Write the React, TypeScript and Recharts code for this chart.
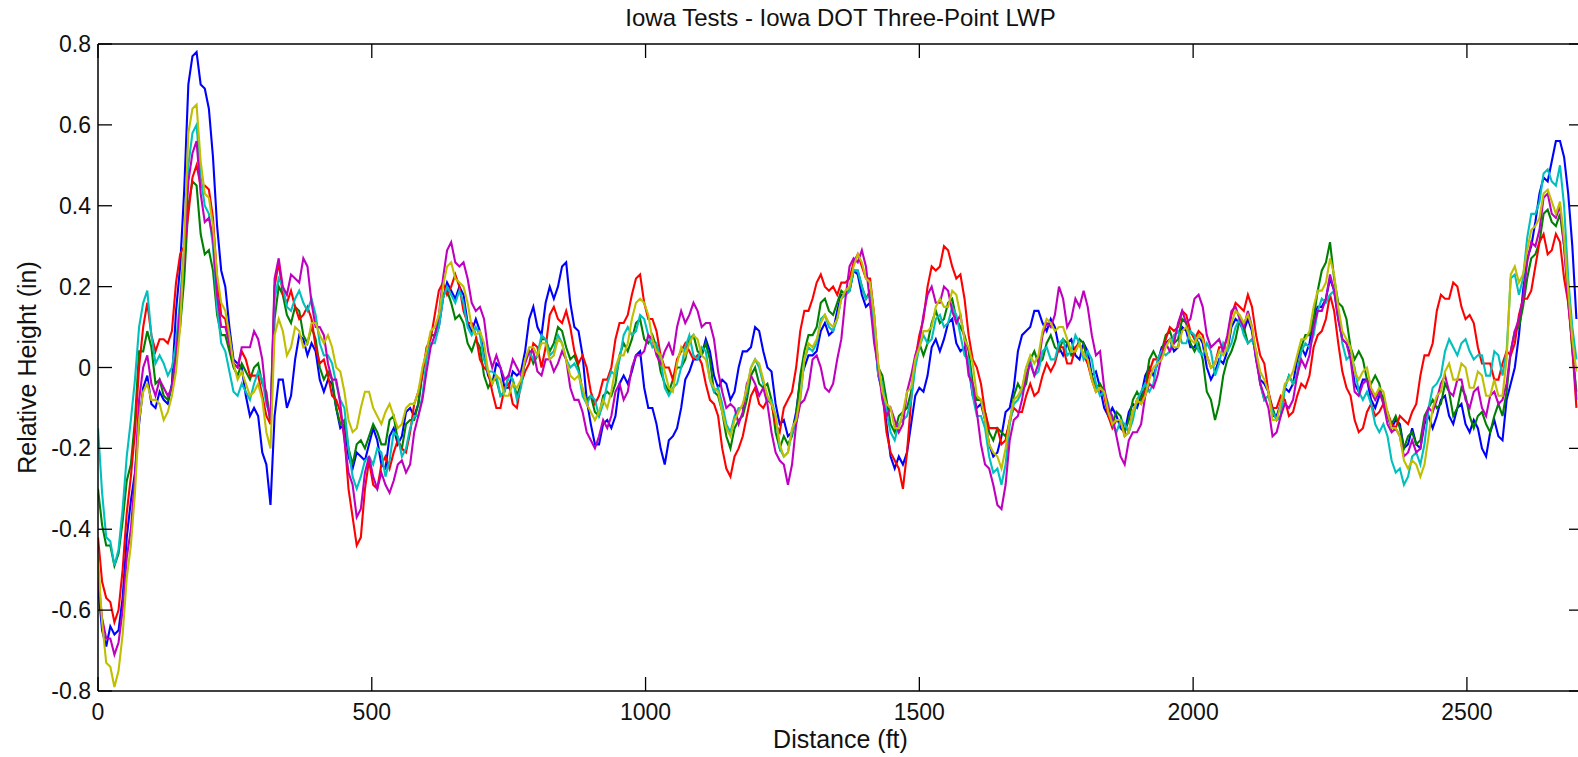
import { LineChart, Line, XAxis, YAxis } from "recharts";

// distance along the wheel path (ft)
const distanceFt = [
  0, 7.5, 15, 22.5, 30, 37.5, 45, 52.5, 60, 67.5, 75, 82.5, 90, 97.5, 105, 112.5, 120, 127.5, 135, 142.5,
  150, 157.5, 165, 172.5, 180, 187.5, 195, 202.5, 210, 217.5, 225, 232.5, 240, 247.5, 255, 262.5, 270, 277.5, 285, 292.5,
  300, 307.5, 315, 322.5, 330, 337.5, 345, 352.5, 360, 367.5, 375, 382.5, 390, 397.5, 405, 412.5, 420, 427.5, 435, 442.5,
  450, 457.5, 465, 472.5, 480, 487.5, 495, 502.5, 510, 517.5, 525, 532.5, 540, 547.5, 555, 562.5, 570, 577.5, 585, 592.5,
  600, 607.5, 615, 622.5, 630, 637.5, 645, 652.5, 660, 667.5, 675, 682.5, 690, 697.5, 705, 712.5, 720, 727.5, 735, 742.5,
  750, 757.5, 765, 772.5, 780, 787.5, 795, 802.5, 810, 817.5, 825, 832.5, 840, 847.5, 855, 862.5, 870, 877.5, 885, 892.5,
  900, 907.5, 915, 922.5, 930, 937.5, 945, 952.5, 960, 967.5, 975, 982.5, 990, 997.5, 1005, 1012.5, 1020, 1027.5, 1035, 1042.5,
  1050, 1057.5, 1065, 1072.5, 1080, 1087.5, 1095, 1102.5, 1110, 1117.5, 1125, 1132.5, 1140, 1147.5, 1155, 1162.5, 1170, 1177.5, 1185, 1192.5,
  1200, 1207.5, 1215, 1222.5, 1230, 1237.5, 1245, 1252.5, 1260, 1267.5, 1275, 1282.5, 1290, 1297.5, 1305, 1312.5, 1320, 1327.5, 1335, 1342.5,
  1350, 1357.5, 1365, 1372.5, 1380, 1387.5, 1395, 1402.5, 1410, 1417.5, 1425, 1432.5, 1440, 1447.5, 1455, 1462.5, 1470, 1477.5, 1485, 1492.5,
  1500, 1507.5, 1515, 1522.5, 1530, 1537.5, 1545, 1552.5, 1560, 1567.5, 1575, 1582.5, 1590, 1597.5, 1605, 1612.5, 1620, 1627.5, 1635, 1642.5,
  1650, 1657.5, 1665, 1672.5, 1680, 1687.5, 1695, 1702.5, 1710, 1717.5, 1725, 1732.5, 1740, 1747.5, 1755, 1762.5, 1770, 1777.5, 1785, 1792.5,
  1800, 1807.5, 1815, 1822.5, 1830, 1837.5, 1845, 1852.5, 1860, 1867.5, 1875, 1882.5, 1890, 1897.5, 1905, 1912.5, 1920, 1927.5, 1935, 1942.5,
  1950, 1957.5, 1965, 1972.5, 1980, 1987.5, 1995, 2002.5, 2010, 2017.5, 2025, 2032.5, 2040, 2047.5, 2055, 2062.5, 2070, 2077.5, 2085, 2092.5,
  2100, 2107.5, 2115, 2122.5, 2130, 2137.5, 2145, 2152.5, 2160, 2167.5, 2175, 2182.5, 2190, 2197.5, 2205, 2212.5, 2220, 2227.5, 2235, 2242.5,
  2250, 2257.5, 2265, 2272.5, 2280, 2287.5, 2295, 2302.5, 2310, 2317.5, 2325, 2332.5, 2340, 2347.5, 2355, 2362.5, 2370, 2377.5, 2385, 2392.5,
  2400, 2407.5, 2415, 2422.5, 2430, 2437.5, 2445, 2452.5, 2460, 2467.5, 2475, 2482.5, 2490, 2497.5, 2505, 2512.5, 2520, 2527.5, 2535, 2542.5,
  2550, 2557.5, 2565, 2572.5, 2580, 2587.5, 2595, 2602.5, 2610, 2617.5, 2625, 2632.5, 2640, 2647.5, 2655, 2662.5, 2670, 2677.5, 2685, 2692.5,
  2700,
];

// relative height (in), one array per run
const run1 = [
  -0.54, -0.65, -0.69, -0.64, -0.66, -0.65, -0.57, -0.42, -0.33, -0.26, -0.14, -0.05, -0.02, -0.09, -0.1, -0.06, -0.08, -0.09, -0.04, 0.14,
  0.25, 0.44, 0.7, 0.77, 0.78, 0.7, 0.69, 0.64, 0.52, 0.35, 0.24, 0.2, 0.1, 0.02, 0.01, 0.0, -0.07, -0.12, -0.1, -0.12,
  -0.21, -0.24, -0.34, -0.12, -0.03, -0.03, -0.1, -0.07, 0.02, 0.08, 0.07, 0.03, 0.06, 0.04, -0.03, -0.06, -0.03, -0.04, -0.1, -0.15,
  -0.14, -0.22, -0.25, -0.21, -0.22, -0.23, -0.19, -0.15, -0.18, -0.24, -0.25, -0.17, -0.15, -0.19, -0.17, -0.11, -0.1, -0.12, -0.09, -0.01,
  0.03, 0.08, 0.08, 0.1, 0.17, 0.21, 0.19, 0.17, 0.2, 0.18, 0.11, 0.09, 0.12, 0.09, 0.03, -0.02, -0.04, 0.01, 0.0, -0.05,
  -0.05, -0.01, -0.02, -0.01, 0.04, 0.12, 0.15, 0.1, 0.08, 0.16, 0.2, 0.17, 0.2, 0.25, 0.26, 0.16, 0.1, 0.09, 0.03, -0.08,
  -0.14, -0.19, -0.19, -0.14, -0.13, -0.15, -0.12, -0.04, -0.02, -0.04, -0.01, 0.03, 0.04, -0.05, -0.1, -0.1, -0.14, -0.2, -0.24, -0.18,
  -0.17, -0.15, -0.1, -0.03, -0.01, 0.02, 0.02, 0.03, 0.07, 0.04, -0.02, -0.05, -0.03, -0.04, -0.08, -0.06, 0.0, 0.04, 0.04, 0.05,
  0.1, 0.09, 0.04, 0.0, -0.01, -0.09, -0.14, -0.13, -0.17, -0.16, -0.11, -0.03, 0.0, 0.03, 0.03, 0.04, 0.09, 0.11, 0.08, 0.09,
  0.14, 0.18, 0.18, 0.19, 0.24, 0.23, 0.18, 0.15, 0.16, 0.09, -0.02, -0.06, -0.14, -0.22, -0.25, -0.22, -0.24, -0.21, -0.14, -0.07,
  -0.05, -0.06, -0.02, 0.05, 0.07, 0.04, 0.07, 0.11, 0.12, 0.06, 0.04, 0.05, 0.0, -0.07, -0.1, -0.09, -0.13, -0.19, -0.22, -0.21,
  -0.17, -0.11, -0.1, -0.05, 0.04, 0.08, 0.09, 0.1, 0.14, 0.14, 0.11, 0.09, 0.12, 0.1, 0.05, 0.03, 0.06, 0.07, 0.03, 0.02,
  0.06, 0.04, -0.02, -0.01, -0.05, -0.1, -0.12, -0.1, -0.12, -0.15, -0.16, -0.11, -0.09, -0.1, -0.07, -0.02, 0.0, -0.02, 0.01, 0.05,
  0.06, 0.07, 0.04, 0.05, 0.1, 0.09, 0.05, 0.05, 0.08, 0.06, 0.0, -0.03, -0.01, 0.02, 0.01, 0.04, 0.1, 0.12, 0.11, 0.09,
  0.12, 0.09, 0.02, -0.03, -0.04, -0.06, -0.12, -0.12, -0.09, -0.05, -0.06, -0.04, 0.02, 0.05, 0.03, 0.06, 0.12, 0.15, 0.15, 0.17,
  0.22, 0.19, 0.12, 0.07, 0.06, 0.03, -0.04, -0.06, -0.03, -0.03, -0.08, -0.1, -0.07, -0.07, -0.12, -0.15, -0.13, -0.14, -0.2, -0.19,
  -0.15, -0.19, -0.2, -0.14, -0.12, -0.15, -0.12, -0.08, -0.07, -0.12, -0.14, -0.1, -0.09, -0.14, -0.16, -0.13, -0.15, -0.2, -0.22, -0.16,
  -0.13, -0.17, -0.18, -0.08, -0.04, 0.0, 0.08, 0.19, 0.27, 0.3, 0.36, 0.43, 0.47, 0.46, 0.51, 0.56, 0.56, 0.52, 0.43, 0.3,
  0.12,
];

const run2 = [
  -0.3, -0.39, -0.44, -0.44, -0.49, -0.46, -0.38, -0.28, -0.24, -0.13, 0.04, 0.04, 0.09, 0.05, -0.04, -0.03, -0.07, -0.08, -0.05, 0.04,
  0.1, 0.22, 0.4, 0.46, 0.45, 0.33, 0.28, 0.29, 0.24, 0.13, 0.08, 0.08, 0.04, 0.0, -0.02, 0.01, -0.01, -0.03, 0.0, 0.01,
  -0.04, -0.06, -0.14, 0.12, 0.2, 0.18, 0.13, 0.11, 0.15, 0.14, 0.08, 0.06, 0.1, 0.07, 0.0, -0.03, -0.01, -0.03, -0.1, -0.14,
  -0.13, -0.2, -0.24, -0.19, -0.18, -0.2, -0.17, -0.14, -0.16, -0.19, -0.19, -0.13, -0.12, -0.18, -0.2, -0.14, -0.13, -0.13, -0.09, -0.01,
  0.04, 0.08, 0.08, 0.11, 0.18, 0.19, 0.16, 0.12, 0.13, 0.11, 0.06, 0.04, 0.07, 0.05, -0.02, -0.05, -0.03, -0.03, -0.07, -0.06,
  -0.02, -0.03, -0.07, -0.04, 0.02, 0.04, 0.01, 0.03, 0.07, 0.07, 0.04, 0.06, 0.1, 0.09, 0.05, 0.02, 0.03, 0.0, -0.06, -0.08,
  -0.07, -0.11, -0.12, -0.07, -0.06, -0.07, -0.04, 0.03, 0.06, 0.04, 0.07, 0.11, 0.12, 0.07, 0.06, 0.08, 0.05, -0.01, -0.04, -0.06,
  -0.03, 0.0, 0.0, 0.02, 0.07, 0.08, 0.04, 0.03, 0.06, 0.02, -0.06, -0.07, -0.11, -0.17, -0.2, -0.15, -0.13, -0.12, -0.08, -0.02,
  0.0, -0.04, -0.05, -0.04, -0.08, -0.16, -0.2, -0.17, -0.19, -0.17, -0.12, -0.02, 0.04, 0.08, 0.08, 0.1, 0.16, 0.17, 0.14, 0.13,
  0.16, 0.19, 0.18, 0.19, 0.24, 0.24, 0.2, 0.17, 0.19, 0.11, 0.0, -0.02, -0.08, -0.14, -0.16, -0.12, -0.11, -0.1, -0.06, 0.02,
  0.06, 0.03, 0.06, 0.11, 0.14, 0.11, 0.12, 0.16, 0.17, 0.12, 0.1, 0.08, 0.04, -0.04, -0.08, -0.08, -0.11, -0.16, -0.18, -0.15,
  -0.16, -0.17, -0.14, -0.07, -0.04, -0.06, -0.04, 0.02, 0.04, 0.01, 0.02, 0.06, 0.08, 0.05, 0.04, 0.07, 0.06, 0.03, 0.04, 0.07,
  0.06, 0.01, -0.02, -0.05, -0.04, -0.06, -0.12, -0.14, -0.11, -0.12, -0.16, -0.13, -0.08, -0.06, -0.08, -0.05, 0.02, 0.04, 0.02, 0.04,
  0.08, 0.09, 0.06, 0.07, 0.12, 0.11, 0.06, 0.04, 0.06, 0.02, -0.06, -0.08, -0.13, -0.09, -0.02, 0.02, 0.04, 0.07, 0.12, 0.1,
  0.06, 0.07, 0.04, -0.04, -0.08, -0.07, -0.1, -0.13, -0.12, -0.05, -0.02, -0.04, -0.02, 0.05, 0.08, 0.08, 0.12, 0.19, 0.24, 0.26,
  0.31, 0.22, 0.16, 0.15, 0.12, 0.05, 0.02, 0.04, 0.02, -0.03, -0.04, -0.02, -0.04, -0.09, -0.12, -0.14, -0.12, -0.15, -0.2, -0.17,
  -0.16, -0.19, -0.18, -0.12, -0.1, -0.08, -0.1, -0.09, -0.04, -0.06, -0.12, -0.1, -0.05, -0.07, -0.12, -0.15, -0.12, -0.11, -0.14, -0.16,
  -0.12, -0.09, -0.12, -0.06, 0.04, 0.09, 0.1, 0.15, 0.22, 0.27, 0.28, 0.31, 0.38, 0.39, 0.36, 0.35, 0.38, 0.3, 0.18, 0.04,
  -0.06,
];

const run3 = [
  -0.42, -0.53, -0.57, -0.58, -0.63, -0.6, -0.5, -0.36, -0.27, -0.16, 0.0, 0.1, 0.16, 0.08, 0.04, 0.07, 0.07, 0.06, 0.09, 0.21,
  0.28, 0.3, 0.38, 0.47, 0.5, 0.45, 0.45, 0.44, 0.37, 0.22, 0.13, 0.12, 0.06, 0.01, 0.0, 0.04, 0.02, -0.02, -0.02, -0.02,
  -0.07, -0.12, -0.14, 0.2, 0.26, 0.18, 0.16, 0.19, 0.15, 0.12, 0.13, 0.15, 0.12, 0.05, 0.01, 0.02, -0.02, -0.07, -0.08, -0.11,
  -0.17, -0.3, -0.37, -0.44, -0.42, -0.3, -0.23, -0.29, -0.3, -0.24, -0.22, -0.25, -0.21, -0.18, -0.2, -0.21, -0.16, -0.09, -0.06, -0.02,
  0.05, 0.07, 0.13, 0.19, 0.21, 0.18, 0.2, 0.23, 0.2, 0.14, 0.11, 0.11, 0.08, 0.02, 0.0, -0.01, -0.06, -0.1, -0.1, -0.05,
  -0.04, -0.09, -0.1, -0.04, -0.01, 0.01, 0.06, 0.05, 0.0, 0.05, 0.13, 0.15, 0.12, 0.11, 0.14, 0.1, 0.04, 0.01, 0.03, 0.0,
  -0.06, -0.09, -0.07, -0.03, -0.03, 0.0, 0.07, 0.11, 0.11, 0.13, 0.18, 0.22, 0.23, 0.16, 0.12, 0.12, 0.09, 0.03, 0.0, 0.0,
  -0.03, 0.02, 0.04, 0.06, 0.04, 0.02, 0.03, 0.01, -0.04, -0.08, -0.09, -0.12, -0.2, -0.25, -0.27, -0.22, -0.2, -0.17, -0.12, -0.07,
  -0.05, -0.09, -0.1, -0.08, -0.09, -0.14, -0.16, -0.1, -0.08, -0.06, 0.0, 0.09, 0.14, 0.14, 0.17, 0.21, 0.23, 0.2, 0.19, 0.2,
  0.18, 0.21, 0.21, 0.22, 0.26, 0.28, 0.25, 0.22, 0.22, 0.13, 0.0, -0.06, -0.16, -0.21, -0.23, -0.25, -0.3, -0.21, -0.08, 0.02,
  0.08, 0.12, 0.2, 0.25, 0.24, 0.25, 0.3, 0.29, 0.25, 0.22, 0.23, 0.17, 0.08, 0.02, 0.0, -0.04, -0.11, -0.15, -0.15, -0.15,
  -0.19, -0.18, -0.13, -0.1, -0.11, -0.11, -0.07, -0.04, -0.07, -0.06, -0.02, 0.01, -0.01, 0.01, 0.05, 0.05, 0.01, 0.01, 0.05, 0.06,
  0.03, 0.01, -0.03, -0.06, -0.05, -0.07, -0.12, -0.15, -0.13, -0.13, -0.17, -0.16, -0.11, -0.08, -0.09, -0.06, -0.01, 0.02, 0.02, 0.03,
  0.07, 0.1, 0.09, 0.1, 0.14, 0.13, 0.09, 0.07, 0.09, 0.08, 0.03, 0.0, 0.01, 0.05, 0.05, 0.07, 0.13, 0.16, 0.15, 0.14,
  0.18, 0.15, 0.08, 0.03, 0.01, -0.06, -0.1, -0.1, -0.07, -0.08, -0.12, -0.11, -0.07, -0.04, -0.05, -0.02, 0.05, 0.08, 0.09, 0.12,
  0.18, 0.14, 0.06, -0.01, -0.05, -0.07, -0.13, -0.16, -0.15, -0.11, -0.09, -0.12, -0.11, -0.09, -0.11, -0.14, -0.15, -0.12, -0.13, -0.14,
  -0.11, -0.09, -0.02, 0.03, 0.03, 0.06, 0.14, 0.18, 0.17, 0.17, 0.21, 0.2, 0.15, 0.12, 0.13, 0.11, 0.05, 0.01, 0.01, 0.01,
  -0.03, -0.03, 0.01, 0.04, 0.03, 0.06, 0.13, 0.17, 0.17, 0.19, 0.25, 0.31, 0.33, 0.28, 0.29, 0.33, 0.31, 0.22, 0.16, 0.05,
  -0.1,
];

const run4 = [
  -0.15, -0.31, -0.42, -0.43, -0.49, -0.45, -0.35, -0.22, -0.13, -0.03, 0.1, 0.16, 0.19, 0.08, 0.01, 0.03, 0.01, -0.02, 0.0, 0.06,
  0.17, 0.3, 0.5, 0.58, 0.6, 0.47, 0.4, 0.38, 0.3, 0.15, 0.06, 0.04, -0.01, -0.06, -0.07, -0.04, -0.06, -0.08, -0.04, -0.01,
  -0.03, -0.09, -0.12, 0.17, 0.22, 0.2, 0.15, 0.14, 0.17, 0.19, 0.16, 0.14, 0.17, 0.13, 0.06, 0.03, 0.03, 0.01, -0.04, -0.08,
  -0.1, -0.2, -0.27, -0.3, -0.27, -0.23, -0.22, -0.24, -0.2, -0.21, -0.27, -0.23, -0.16, -0.17, -0.22, -0.2, -0.15, -0.12, -0.12, -0.07,
  0.02, 0.06, 0.06, 0.1, 0.17, 0.2, 0.18, 0.16, 0.19, 0.16, 0.1, 0.08, 0.1, 0.08, 0.02, -0.01, -0.01, -0.02, -0.07, -0.06,
  -0.02, -0.03, -0.08, -0.05, 0.02, 0.04, 0.02, 0.03, 0.08, 0.07, 0.03, 0.04, 0.08, 0.06, 0.02, 0.0, 0.01, -0.01, -0.07, -0.09,
  -0.07, -0.08, -0.12, -0.09, -0.04, -0.01, -0.02, 0.02, 0.08, 0.1, 0.08, 0.09, 0.13, 0.12, 0.08, 0.05, 0.06, 0.02, -0.05, -0.07,
  -0.05, -0.04, 0.0, 0.05, 0.08, 0.03, 0.02, 0.05, 0.04, -0.03, -0.06, -0.05, -0.09, -0.14, -0.16, -0.12, -0.1, -0.1, -0.06, 0.0,
  0.02, 0.0, -0.04, -0.08, -0.08, -0.12, -0.2, -0.22, -0.21, -0.16, -0.14, -0.08, 0.02, 0.05, 0.04, 0.06, 0.12, 0.13, 0.1, 0.09,
  0.12, 0.17, 0.18, 0.19, 0.24, 0.24, 0.2, 0.17, 0.18, 0.1, -0.02, -0.04, -0.11, -0.16, -0.18, -0.14, -0.13, -0.12, -0.08, 0.0,
  0.05, 0.08, 0.06, 0.07, 0.12, 0.13, 0.1, 0.11, 0.15, 0.13, 0.08, 0.03, 0.02, -0.07, -0.12, -0.12, -0.15, -0.22, -0.26, -0.25,
  -0.29, -0.24, -0.14, -0.09, -0.08, -0.06, 0.0, 0.02, -0.02, -0.01, 0.04, 0.05, 0.02, 0.02, 0.06, 0.07, 0.03, 0.04, 0.08, 0.06,
  0.02, 0.04, 0.02, -0.04, -0.07, -0.06, -0.09, -0.14, -0.16, -0.13, -0.14, -0.16, -0.13, -0.08, -0.06, -0.04, -0.06, -0.04, 0.02, 0.04,
  0.03, 0.04, 0.08, 0.09, 0.06, 0.06, 0.09, 0.08, 0.04, 0.03, 0.06, 0.04, -0.02, 0.01, 0.06, 0.04, 0.06, 0.1, 0.12, 0.08,
  0.06, 0.07, 0.04, -0.04, -0.08, -0.07, -0.11, -0.13, -0.12, -0.05, -0.02, -0.04, -0.02, 0.04, 0.06, 0.05, 0.08, 0.14, 0.17, 0.16,
  0.18, 0.19, 0.14, 0.06, 0.02, 0.03, 0.0, -0.06, -0.08, -0.06, -0.09, -0.14, -0.16, -0.14, -0.17, -0.23, -0.26, -0.25, -0.29, -0.27,
  -0.22, -0.21, -0.24, -0.19, -0.1, -0.05, -0.04, -0.02, 0.04, 0.07, 0.05, 0.03, 0.06, 0.07, 0.04, 0.02, 0.03, 0.03, -0.02, -0.02,
  0.04, 0.03, -0.02, 0.04, 0.22, 0.23, 0.18, 0.22, 0.32, 0.38, 0.38, 0.41, 0.48, 0.49, 0.46, 0.45, 0.5, 0.4, 0.22, 0.1,
  0.02,
];

const run5 = [
  -0.52, -0.62, -0.67, -0.67, -0.71, -0.68, -0.6, -0.47, -0.4, -0.27, -0.08, 0.0, 0.03, -0.04, -0.07, -0.03, -0.05, -0.07, -0.05, 0.03,
  0.15, 0.28, 0.46, 0.53, 0.56, 0.43, 0.36, 0.37, 0.32, 0.18, 0.1, 0.1, 0.06, 0.01, 0.0, 0.05, 0.05, 0.05, 0.09, 0.07,
  0.02, -0.08, -0.13, 0.22, 0.27, 0.2, 0.18, 0.23, 0.22, 0.21, 0.27, 0.25, 0.16, 0.1, 0.1, 0.08, 0.01, -0.03, -0.03, -0.09,
  -0.18, -0.26, -0.29, -0.37, -0.35, -0.26, -0.22, -0.27, -0.3, -0.26, -0.29, -0.31, -0.28, -0.24, -0.23, -0.26, -0.24, -0.16, -0.12, -0.08,
  -0.01, 0.05, 0.08, 0.13, 0.22, 0.29, 0.31, 0.26, 0.25, 0.26, 0.22, 0.16, 0.14, 0.15, 0.12, 0.04, 0.0, 0.03, 0.0, -0.03,
  -0.02, 0.02, 0.0, -0.02, 0.01, 0.04, 0.04, -0.01, -0.02, 0.02, 0.02, -0.01, 0.01, 0.04, 0.02, -0.05, -0.08, -0.08, -0.11, -0.16,
  -0.18, -0.2, -0.17, -0.13, -0.15, -0.12, -0.06, -0.04, -0.08, -0.06, 0.0, 0.03, 0.03, 0.04, 0.08, 0.07, 0.03, 0.01, 0.04, 0.06,
  0.03, 0.1, 0.14, 0.11, 0.13, 0.16, 0.14, 0.1, 0.11, 0.11, 0.07, -0.01, -0.06, -0.1, -0.09, -0.1, -0.14, -0.11, -0.04, -0.02,
  -0.04, -0.07, -0.05, -0.09, -0.16, -0.21, -0.23, -0.24, -0.29, -0.24, -0.14, -0.09, -0.08, -0.05, 0.02, 0.03, 0.0, -0.05, -0.06, -0.04,
  0.02, 0.07, 0.17, 0.25, 0.27, 0.26, 0.29, 0.25, 0.16, 0.06, 0.0, -0.08, -0.12, -0.1, -0.13, -0.16, -0.14, -0.06, -0.02, 0.03,
  0.06, 0.13, 0.18, 0.2, 0.16, 0.16, 0.2, 0.19, 0.14, 0.11, 0.13, 0.07, -0.02, -0.04, -0.11, -0.19, -0.24, -0.25, -0.29, -0.34,
  -0.35, -0.29, -0.18, -0.13, -0.12, -0.08, -0.02, 0.01, -0.02, 0.01, 0.08, 0.11, 0.1, 0.13, 0.2, 0.17, 0.1, 0.12, 0.17, 0.15,
  0.19, 0.15, 0.08, 0.03, 0.04, -0.05, -0.1, -0.12, -0.17, -0.22, -0.24, -0.18, -0.16, -0.16, -0.14, -0.07, -0.04, -0.05, -0.02, 0.03,
  0.06, 0.04, 0.06, 0.11, 0.14, 0.11, 0.12, 0.17, 0.18, 0.15, 0.08, 0.05, 0.06, 0.07, 0.04, 0.08, 0.14, 0.15, 0.12, 0.1,
  0.14, 0.1, 0.02, -0.04, -0.07, -0.1, -0.17, -0.16, -0.12, -0.09, -0.1, -0.08, -0.02, 0.02, 0.0, 0.03, 0.1, 0.14, 0.14, 0.17,
  0.23, 0.19, 0.12, 0.07, 0.06, 0.02, -0.06, -0.07, -0.04, -0.03, -0.06, -0.08, -0.06, -0.09, -0.14, -0.16, -0.15, -0.17, -0.22, -0.21,
  -0.18, -0.21, -0.2, -0.13, -0.1, -0.11, -0.08, -0.04, -0.02, -0.06, -0.07, -0.03, -0.03, -0.08, -0.1, -0.06, -0.05, -0.1, -0.12, -0.07,
  -0.06, -0.09, -0.08, -0.04, 0.04, 0.09, 0.12, 0.17, 0.26, 0.31, 0.3, 0.34, 0.42, 0.43, 0.38, 0.37, 0.4, 0.3, 0.16, 0.06,
  -0.08,
];

const run6 = [
  -0.47, -0.63, -0.73, -0.74, -0.79, -0.75, -0.66, -0.52, -0.44, -0.31, -0.13, -0.06, -0.04, -0.08, -0.08, -0.09, -0.13, -0.11, -0.07, -0.01,
  0.1, 0.31, 0.58, 0.64, 0.65, 0.51, 0.43, 0.42, 0.35, 0.23, 0.16, 0.14, 0.08, 0.01, -0.03, -0.01, -0.04, -0.07, -0.06, -0.04,
  -0.08, -0.16, -0.2, 0.08, 0.12, 0.09, 0.03, 0.05, 0.1, 0.09, 0.05, 0.06, 0.11, 0.11, 0.08, 0.06, 0.08, 0.05, 0.0, -0.01,
  -0.06, -0.13, -0.16, -0.15, -0.1, -0.06, -0.06, -0.1, -0.12, -0.14, -0.11, -0.09, -0.12, -0.15, -0.14, -0.1, -0.09, -0.09, -0.06, 0.0,
  0.04, 0.09, 0.1, 0.13, 0.2, 0.25, 0.26, 0.22, 0.21, 0.2, 0.16, 0.1, 0.08, 0.09, 0.06, -0.01, -0.04, -0.02, -0.03, -0.07,
  -0.07, -0.04, -0.05, -0.03, 0.02, 0.05, 0.05, 0.03, 0.06, 0.06, 0.02, 0.03, 0.07, 0.06, 0.02, -0.02, -0.03, -0.02, -0.05, -0.09,
  -0.11, -0.13, -0.11, -0.08, -0.1, -0.06, 0.0, 0.03, 0.03, 0.06, 0.12, 0.16, 0.17, 0.16, 0.13, 0.07, 0.04, 0.03, -0.01, -0.05,
  -0.06, 0.01, 0.05, 0.03, 0.06, 0.08, 0.07, 0.03, 0.02, -0.03, -0.05, -0.06, -0.11, -0.15, -0.17, -0.13, -0.11, -0.09, -0.05, 0.0,
  0.02, 0.01, -0.03, -0.07, -0.09, -0.12, -0.19, -0.22, -0.21, -0.15, -0.13, -0.07, 0.02, 0.06, 0.05, 0.07, 0.11, 0.13, 0.11, 0.1,
  0.12, 0.17, 0.19, 0.2, 0.25, 0.28, 0.26, 0.22, 0.21, 0.13, 0.01, -0.06, -0.09, -0.1, -0.15, -0.15, -0.11, -0.06, -0.05, 0.02,
  0.05, 0.09, 0.09, 0.1, 0.15, 0.17, 0.15, 0.15, 0.19, 0.18, 0.13, 0.07, 0.05, 0.01, -0.07, -0.08, -0.13, -0.19, -0.21, -0.22,
  -0.25, -0.2, -0.13, -0.08, -0.07, -0.05, 0.0, 0.03, 0.01, 0.03, 0.09, 0.12, 0.11, 0.09, 0.1, 0.1, 0.07, 0.04, 0.04, 0.06,
  0.03, 0.02, -0.03, -0.06, -0.05, -0.06, -0.11, -0.14, -0.13, -0.13, -0.17, -0.16, -0.11, -0.08, -0.09, -0.07, -0.03, 0.0, 0.01, 0.02,
  0.05, 0.07, 0.05, 0.05, 0.09, 0.1, 0.07, 0.06, 0.08, 0.07, 0.03, 0.0, 0.01, 0.04, 0.03, 0.05, 0.11, 0.14, 0.13, 0.11,
  0.13, 0.1, 0.04, -0.01, -0.03, -0.06, -0.13, -0.13, -0.09, -0.04, -0.03, -0.01, 0.03, 0.07, 0.07, 0.09, 0.15, 0.19, 0.19, 0.21,
  0.27, 0.23, 0.15, 0.09, 0.07, 0.05, -0.01, -0.03, -0.01, 0.0, -0.05, -0.07, -0.05, -0.06, -0.11, -0.15, -0.15, -0.17, -0.23, -0.25,
  -0.23, -0.24, -0.27, -0.24, -0.17, -0.1, -0.07, -0.06, -0.01, 0.01, -0.03, -0.03, 0.01, 0.0, -0.05, -0.05, -0.01, -0.02, -0.07, -0.07,
  -0.03, -0.07, -0.07, 0.02, 0.23, 0.25, 0.21, 0.23, 0.29, 0.34, 0.35, 0.37, 0.43, 0.44, 0.41, 0.38, 0.41, 0.32, 0.19, 0.07,
  -0.01,
];

const xTicks = [0, 500, 1000, 1500, 2000, 2500];
const yTicks = [-0.8, -0.6, -0.4, -0.2, 0, 0.2, 0.4, 0.6, 0.8];

// plotting order b, g, r, c, m, y (later runs draw on top)
const runs = [
  { key: "run1", color: "#0000ff", values: run1 },
  { key: "run2", color: "#008000", values: run2 },
  { key: "run3", color: "#ff0000", values: run3 },
  { key: "run4", color: "#00bfbf", values: run4 },
  { key: "run5", color: "#bf00bf", values: run5 },
  { key: "run6", color: "#bfbf00", values: run6 },
];

const data = distanceFt.map((d, i) => {
  const row: Record<string, number> = { distance: d };
  runs.forEach((r) => {
    row[r.key] = r.values[i];
  });
  return row;
});

const FONT = '"Liberation Sans", Arial, Helvetica, sans-serif';
const TICK_LEN = 14;

function BottomTick({ x, y, payload }: any) {
  return (
    <g>
      <line x1={x} y1={y} x2={x} y2={y - TICK_LEN} stroke="#000" strokeWidth={1.3} />
      <text x={x} y={y + 29} textAnchor="middle" fontSize={23} fontFamily={FONT} fill="#111">
        {payload.value}
      </text>
    </g>
  );
}

function TopTick({ x, y }: any) {
  return <line x1={x} y1={y} x2={x} y2={y + TICK_LEN} stroke="#000" strokeWidth={1.3} />;
}

function LeftTick({ x, y, payload }: any) {
  return (
    <g>
      <line x1={x} y1={y} x2={x + TICK_LEN} y2={y} stroke="#000" strokeWidth={1.3} />
      <text x={x - 7} y={y + 8} textAnchor="end" fontSize={23} fontFamily={FONT} fill="#111">
        {String(payload.value)}
      </text>
    </g>
  );
}

function RightTick({ x, y }: any) {
  return <line x1={x} y1={y} x2={x - TICK_LEN} y2={y} stroke="#000" strokeWidth={1.3} />;
}

export default function App() {
  return (
    <div
      style={{
        position: "fixed",
        left: 0,
        top: 0,
        width: 1578,
        height: 757,
        overflow: "hidden",
        background: "#fff",
      }}
    >
      <LineChart
        width={1600}
        height={757}
        data={data}
        margin={{ top: 43, right: 16, bottom: 0, left: 0 }}
      >
        <XAxis
          dataKey="distance"
          type="number"
          domain={[0, 2712]}
          allowDataOverflow
          ticks={xTicks}
          height={66}
          tickSize={0}
          tickMargin={0}
          tickLine={false}
          tick={BottomTick}
          axisLine={{ stroke: "#000", strokeWidth: 1.5 }}
          label={{
            value: "Distance (ft)",
            position: "insideBottom",
            offset: 9,
            fontSize: 25,
            fontFamily: FONT,
            fill: "#111",
          }}
        />
        <XAxis
          xAxisId="top"
          orientation="top"
          dataKey="distance"
          type="number"
          domain={[0, 2712]}
          allowDataOverflow
          ticks={xTicks}
          height={1}
          tickSize={0}
          tickMargin={0}
          tickLine={false}
          tick={TopTick}
          axisLine={{ stroke: "#000", strokeWidth: 1.5 }}
          label={{
            value: "Iowa Tests - Iowa DOT Three-Point LWP",
            position: "top",
            offset: 17,
            fontSize: 24,
            fontFamily: FONT,
            fill: "#111",
          }}
        />
        <YAxis
          type="number"
          domain={[-0.8, 0.8]}
          allowDataOverflow
          ticks={yTicks}
          width={98}
          tickSize={0}
          tickMargin={0}
          tickLine={false}
          tick={LeftTick}
          axisLine={{ stroke: "#000", strokeWidth: 1.5 }}
          label={{
            value: "Relative Height (in)",
            angle: -90,
            position: "insideLeft",
            offset: 27,
            fontSize: 25,
            fontFamily: FONT,
            fill: "#111",
            style: { textAnchor: "middle" },
          }}
        />
        <YAxis
          yAxisId="right"
          orientation="right"
          type="number"
          domain={[-0.8, 0.8]}
          allowDataOverflow
          ticks={yTicks}
          width={1}
          tickSize={0}
          tickMargin={0}
          tickLine={false}
          tick={RightTick}
          axisLine={{ stroke: "#000", strokeWidth: 1.5 }}
        />
        {runs.map((r) => (
          <Line
            key={r.key}
            dataKey={r.key}
            type="linear"
            stroke={r.color}
            strokeWidth={2.1}
            strokeLinejoin="miter"
            dot={false}
            activeDot={false}
            isAnimationActive={false}
          />
        ))}
        {/* invisible copy so the frame axes (top / right) get a series */}
        <Line
          xAxisId="top"
          yAxisId="right"
          dataKey="run1"
          stroke="none"
          dot={false}
          activeDot={false}
          legendType="none"
          isAnimationActive={false}
        />
      </LineChart>
    </div>
  );
}
